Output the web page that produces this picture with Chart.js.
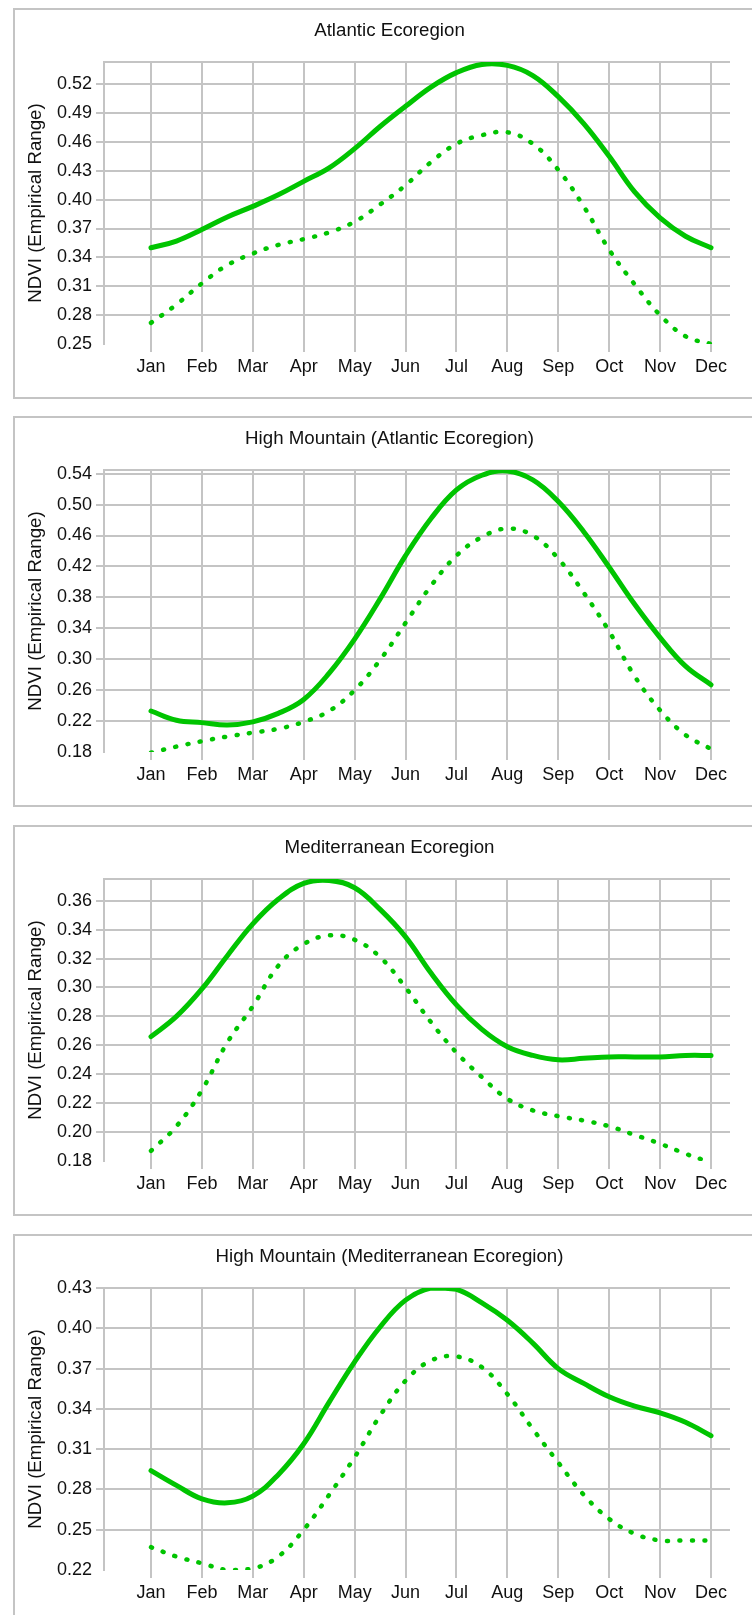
<!DOCTYPE html>
<html>
<head>
<meta charset="utf-8">
<script src="https://cdn.jsdelivr.net/npm/chart.js@4.4.1/dist/chart.umd.min.js"></script>
<style>
  html, body { margin: 0; padding: 0; background: #fff; overflow: hidden; }
  #page { position: relative; width: 752px; height: 1615px; overflow: hidden; }
  .frame { position: absolute; left: 13px; width: 780px; height: 391px; border: 2px solid #c4c4c4; border-right: none; box-sizing: border-box; }
  canvas { position: absolute; left: 14px; }
</style>
</head>
<body>
<div id="page">
  <div class="frame" style="top:8px"></div>
  <div class="frame" style="top:416px"></div>
  <div class="frame" style="top:825px"></div>
  <div class="frame" style="top:1234px"></div>
  <canvas id="c1" width="751" height="386" style="top:10px"></canvas>
  <canvas id="c2" width="751" height="386" style="top:418px"></canvas>
  <canvas id="c3" width="751" height="386" style="top:827px"></canvas>
  <canvas id="c4" width="751" height="386" style="top:1236px"></canvas>
</div>
<script>
// months on the x axis (1 = Jan ... 12 = Dec)
const months = ['Jan', 'Feb', 'Mar', 'Apr', 'May', 'Jun', 'Jul', 'Aug', 'Sep', 'Oct', 'Nov', 'Dec'];
const monthTicks = [1, 2, 3, 4, 5, 6, 7, 8, 9, 10, 11, 12];
// sample positions (every half month)
const sampleX = [1, 1.5, 2, 2.5, 3, 3.5, 4, 4.5, 5, 5.5, 6, 6.5, 7, 7.5, 8, 8.5, 9, 9.5, 10, 10.5, 11, 11.5, 12];

// Atlantic Ecoregion
const atlTicks = [0.25, 0.28, 0.31, 0.34, 0.37, 0.40, 0.43, 0.46, 0.49, 0.52];
const atlSolid = [0.350, 0.357, 0.369, 0.382, 0.393, 0.405, 0.419, 0.433, 0.453, 0.476, 0.497, 0.517, 0.532, 0.5405, 0.5395, 0.529, 0.507, 0.479, 0.445, 0.408, 0.381, 0.362, 0.350];
const atlDotted = [0.272, 0.291, 0.313, 0.332, 0.344, 0.353, 0.359, 0.366, 0.377, 0.395, 0.415, 0.439, 0.458, 0.467, 0.470, 0.458, 0.431, 0.393, 0.348, 0.312, 0.280, 0.258, 0.250];

// High Mountain (Atlantic Ecoregion)
const hmAtlTicks = [0.18, 0.22, 0.26, 0.30, 0.34, 0.38, 0.42, 0.46, 0.50, 0.54];
const hmAtlSolid = [0.233, 0.221, 0.218, 0.215, 0.219, 0.230, 0.248, 0.282, 0.326, 0.378, 0.434, 0.482, 0.519, 0.538, 0.5435, 0.532, 0.504, 0.465, 0.419, 0.371, 0.328, 0.291, 0.267];
const hmAtlDotted = [0.179, 0.187, 0.194, 0.200, 0.205, 0.210, 0.219, 0.233, 0.260, 0.299, 0.347, 0.395, 0.434, 0.458, 0.469, 0.460, 0.430, 0.386, 0.336, 0.278, 0.234, 0.202, 0.184];

// Mediterranean Ecoregion
const medTicks = [0.18, 0.20, 0.22, 0.24, 0.26, 0.28, 0.30, 0.32, 0.34, 0.36];
const medSolid = [0.266, 0.280, 0.299, 0.322, 0.344, 0.361, 0.372, 0.374, 0.369, 0.354, 0.335, 0.310, 0.288, 0.271, 0.259, 0.253, 0.250, 0.251, 0.252, 0.252, 0.252, 0.253, 0.253];
const medDotted = [0.187, 0.204, 0.229, 0.262, 0.287, 0.315, 0.330, 0.336, 0.333, 0.321, 0.300, 0.276, 0.255, 0.238, 0.223, 0.215, 0.211, 0.208, 0.204, 0.198, 0.192, 0.185, 0.179];

// High Mountain (Mediterranean Ecoregion)
const hmMedTicks = [0.22, 0.25, 0.28, 0.31, 0.34, 0.37, 0.40, 0.43];
const hmMedSolid = [0.294, 0.283, 0.273, 0.270, 0.275, 0.291, 0.314, 0.345, 0.375, 0.401, 0.421, 0.430, 0.429, 0.419, 0.406, 0.389, 0.370, 0.359, 0.349, 0.342, 0.337, 0.330, 0.320];
const hmMedDotted = [0.237, 0.230, 0.225, 0.220, 0.221, 0.230, 0.250, 0.276, 0.304, 0.335, 0.361, 0.376, 0.379, 0.371, 0.351, 0.325, 0.300, 0.276, 0.258, 0.247, 0.242, 0.242, 0.242];

const green = '#00c400';
const gridGrey = '#c4c4c4';
const textColor = '#111';
const fontFamily = "'Liberation Sans', Arial, sans-serif";

function points(values) {
  return values.map((v, i) => ({ x: sampleX[i], y: v }));
}

function makePanel(id, title, yTicks, yMax, solid, dotted) {
  const yMin = yTicks[0];
  const ctx = document.getElementById(id).getContext('2d');
  new Chart(ctx, {
    type: 'line',
    data: {
      datasets: [{
        data: points(solid),
        borderColor: green,
        borderWidth: 5,
        pointRadius: 0,
        tension: 0.4,
        borderCapStyle: 'round',
        borderJoinStyle: 'round'
      }, {
        data: points(dotted),
        borderColor: green,
        borderWidth: 4.5,
        borderDash: [1, 11.5],
        borderCapStyle: 'round',
        pointRadius: 0,
        tension: 0.4
      }]
    },
    options: {
      responsive: false,
      animation: false,
      layout: { padding: 0 },
      plugins: {
        legend: { display: false },
        tooltip: { enabled: false },
        title: {
          display: true,
          text: title,
          color: textColor,
          font: { family: fontFamily, size: 18.7, weight: 'normal' },
          padding: { top: 10, bottom: 19.6 }
        }
      },
      scales: {
        x: {
          type: 'linear',
          min: 0.077,
          max: 12.373,
          afterBuildTicks: (scale) => { scale.ticks = monthTicks.map(v => ({ value: v })); },
          afterFit: (scale) => { scale.height = 52; },
          border: { display: false },
          grid: { color: gridGrey, lineWidth: 2, tickLength: 8 },
          ticks: {
            autoSkip: false,
            maxRotation: 0,
            padding: 4,
            color: textColor,
            font: { family: fontFamily, size: 18 },
            callback: (v) => months[v - 1]
          }
        },
        y: {
          min: yMin,
          max: yMax,
          afterBuildTicks: (scale) => {
            const t = yTicks.slice();
            if (t[t.length - 1] < yMax) t.push(yMax);
            scale.ticks = t.map(v => ({ value: v }));
          },
          afterFit: (scale) => { scale.width = 90; },
          border: { display: true, color: gridGrey, width: 2 },
          grid: {
            lineWidth: 2,
            tickLength: 8,
            color: (c) => (c.tick && c.tick.value === yMin) ? 'rgba(0,0,0,0)' : gridGrey,
            tickColor: (c) => (c.tick && (c.tick.value === yMin || yTicks.indexOf(c.tick.value) < 0)) ? 'rgba(0,0,0,0)' : gridGrey
          },
          ticks: {
            padding: 4,
            color: textColor,
            font: { family: fontFamily, size: 18 },
            callback: (v) => yTicks.indexOf(v) < 0 ? '' : v.toFixed(2)
          },
          title: {
            display: true,
            text: 'NDVI (Empirical Range)',
            color: textColor,
            font: { family: fontFamily, size: 18.7 },
            padding: { top: 10.8, bottom: 0 }
          }
        },
        // empty right-hand axis, only reserves the margin right of the plot
        spacer: {
          type: 'linear',
          position: 'right',
          display: true,
          grid: { display: false },
          border: { display: false },
          ticks: { display: false },
          afterFit: (scale) => { scale.width = 35; }
        }
      }
    }
  });
}

makePanel('c1', 'Atlantic Ecoregion', atlTicks, 0.543, atlSolid, atlDotted);
makePanel('c2', 'High Mountain (Atlantic Ecoregion)', hmAtlTicks, 0.5447, hmAtlSolid, hmAtlDotted);
makePanel('c3', 'Mediterranean Ecoregion', medTicks, 0.375, medSolid, medDotted);
makePanel('c4', 'High Mountain (Mediterranean Ecoregion)', hmMedTicks, 0.43, hmMedSolid, hmMedDotted);
</script>
</body>
</html>
